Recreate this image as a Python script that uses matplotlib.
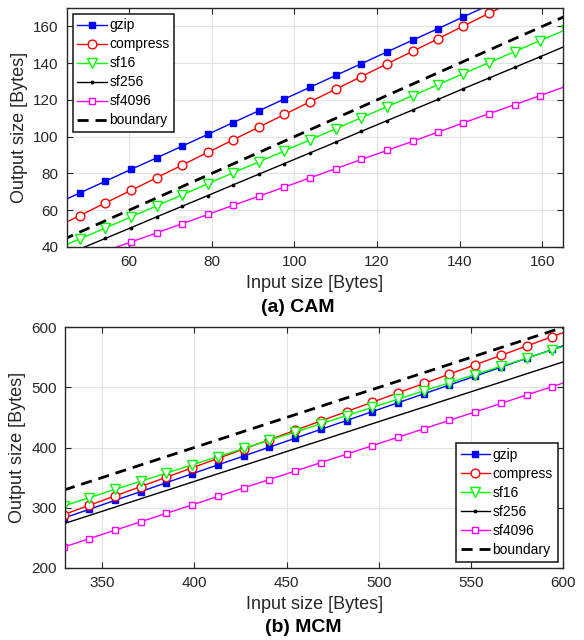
import matplotlib
matplotlib.use("Agg")
import matplotlib.pyplot as plt
from matplotlib.lines import Line2D

plt.rcParams['font.family'] = ['Liberation Sans', 'DejaVu Sans']

# ---- (a) CAM ----
cam_in = [41.9, 48.1, 54.3, 60.5, 66.7, 72.9, 79.1, 85.2, 91.4, 97.6, 103.8,
          110.0, 116.2, 122.4, 128.6, 134.8, 140.9, 147.1, 153.3, 159.5, 165.7]
cam_gzip = [63.0, 69.4, 75.8, 82.2, 88.5, 94.9, 101.3, 107.7, 114.1, 120.5, 126.9,
            133.3, 139.7, 146.1, 152.5, 158.8, 165.2, 171.6, 178.0, 184.4, 190.8]
cam_compress = [50.2, 57.1, 64.0, 70.8, 77.7, 84.6, 91.5, 98.3, 105.2, 112.1, 119.0,
                125.8, 132.7, 139.6, 146.4, 153.3, 160.2, 167.1, 173.9, 180.8, 187.7]
cam_sf16 = [38.4, 44.4, 50.4, 56.4, 62.4, 68.4, 74.4, 80.4, 86.3, 92.3, 98.3,
            104.3, 110.3, 116.3, 122.3, 128.3, 134.3, 140.3, 146.3, 152.3, 158.2]
cam_sf256 = [33.1, 38.9, 44.7, 50.5, 56.4, 62.2, 68.0, 73.8, 79.6, 85.4, 91.2,
             97.0, 102.9, 108.7, 114.5, 120.3, 126.1, 131.9, 137.7, 143.5, 149.4]
cam_sf4096 = [27.8, 32.8, 37.8, 42.7, 47.7, 52.7, 57.7, 62.7, 67.6, 72.6, 77.6,
              82.6, 87.6, 92.5, 97.5, 102.5, 107.5, 112.5, 117.4, 122.4, 127.4]
cam_boundary_x = [40, 170]
cam_boundary_y = [40, 170]

# ---- (b) MCM ----
mcm_in = [329.05, 343.0, 356.95, 370.9, 384.85, 398.8, 412.75, 426.7, 440.65, 454.6,
          468.55, 482.5, 496.45, 510.4, 524.35, 538.3, 552.25, 566.2, 580.15, 594.1, 608.05]
mcm_gzip = [282.4, 297.2, 312.0, 326.7, 341.5, 356.3, 371.1, 385.8, 400.6, 415.4,
            430.2, 444.9, 459.7, 474.5, 489.3, 504.0, 518.8, 533.6, 548.4, 563.1, 577.9]
mcm_compress = [288.2, 303.8, 319.4, 335.0, 350.6, 366.2, 381.8, 397.4, 413.0, 428.6,
                444.2, 459.8, 475.4, 491.0, 506.5, 522.1, 537.7, 553.3, 568.9, 584.5, 600.1]
mcm_sf16 = [302.8, 316.5, 330.2, 343.8, 357.5, 371.1, 384.8, 398.4, 412.1, 425.8,
            439.4, 453.1, 466.7, 480.4, 494.1, 507.7, 521.4, 535.0, 548.7, 562.3, 576.0]
mcm_sf256 = [273.1, 286.9, 300.8, 314.7, 328.5, 342.4, 356.3, 370.1, 384.0, 397.9,
             411.7, 425.6, 439.5, 453.4, 467.2, 481.1, 495.0, 508.8, 522.7, 536.6, 550.4]
mcm_sf4096 = [234.2, 248.3, 262.4, 276.4, 290.5, 304.5, 318.6, 332.7, 346.7, 360.8,
              374.9, 388.9, 403.0, 417.1, 431.1, 445.2, 459.2, 473.3, 487.4, 501.4, 515.5]
mcm_boundary_x = [320, 610]
mcm_boundary_y = [320, 610]

labels = ["gzip", "compress", "sf16", "sf256", "sf4096", "boundary"]

AX_COL = "#262626"
GRID_COL = "#e3e3e3"

styles = [
    dict(color=(0, 0, 1), marker="s", markersize=4.5, markerfacecolor=(0, 0, 1)),
    dict(color=(1, 0, 0), marker="o", markersize=6.3, markerfacecolor="white"),
    dict(color=(0, 1, 0), marker="v", markersize=6.8, markerfacecolor="white"),
    dict(color="black", marker=".", markersize=3.5),
    dict(color=(1, 0, 1), marker="s", markersize=4.8, markerfacecolor="white"),
]

fig = plt.figure(figsize=(5.84, 6.4), dpi=100)
ax1 = fig.add_axes([67 / 584, 1 - 247 / 640, 496 / 584, 239 / 640])
ax2 = fig.add_axes([65.3 / 584, 1 - 567.7 / 640, 498 / 584, 240.4 / 640])


def style_axes(ax):
    ax.grid(True, color=GRID_COL, linewidth=0.8, zorder=0)
    ax.set_axisbelow(True)
    for s in ax.spines.values():
        s.set_color(AX_COL)
        s.set_linewidth(1.0)
    ax.tick_params(direction="in", top=True, right=True, length=4, width=0.8,
                   colors=AX_COL, labelsize=11, pad=6)
    for t in ax.get_xticklabels() + ax.get_yticklabels():
        t.set_color(AX_COL)


legend_kw = dict(fontsize=10, handlelength=2.1, handletextpad=0.2,
                 labelspacing=0.36, borderpad=0.35, borderaxespad=0.4,
                 fancybox=False, framealpha=1, edgecolor=AX_COL)

# top panel
series_cam = [cam_gzip, cam_compress, cam_sf16, cam_sf256, cam_sf4096]
for ys, st, lab in zip(series_cam, styles, labels):
    ax1.plot(cam_in, ys, linewidth=1.0, label=lab, **st)
ax1.plot(cam_boundary_x, cam_boundary_y, color="black", linestyle=(0, (4, 2.5)),
         linewidth=2.0, label="boundary")
ax1.set_xlim(45, 165)
ax1.set_ylim(40, 170)
ax1.set_xticks([60, 80, 100, 120, 140, 160])
ax1.set_yticks([40, 60, 80, 100, 120, 140, 160])
style_axes(ax1)
ax1.set_xlabel("Input size [Bytes]", fontsize=13, color=AX_COL, labelpad=4)
ax1.set_ylabel("Output size [Bytes]", fontsize=13, color=AX_COL, labelpad=4)
leg1 = ax1.legend(loc="upper left", **legend_kw)
leg1.get_frame().set_linewidth(1.2)

# bottom panel
series_mcm = [mcm_gzip, mcm_compress, mcm_sf16, mcm_sf256, mcm_sf4096]
handles = []
for ys, st, lab in zip(series_mcm, styles, labels):
    if lab == "sf256":
        ax2.plot(mcm_in, ys, color="black", linewidth=1.0)
    else:
        ax2.plot(mcm_in, ys, linewidth=1.0, **st)
    handles.append(Line2D([], [], linewidth=1.0, **st))
ax2.plot(mcm_boundary_x, mcm_boundary_y, color="black", linestyle=(0, (4, 2.5)),
         linewidth=2.0)
handles.append(Line2D([], [], color="black", linestyle=(0, (4, 2.5)), linewidth=2.0))
ax2.set_xlim(330, 600)
ax2.set_ylim(200, 600)
ax2.set_xticks([350, 400, 450, 500, 550, 600])
ax2.set_yticks([200, 300, 400, 500, 600])
style_axes(ax2)
ax2.set_xlabel("Input size [Bytes]", fontsize=13, color=AX_COL, labelpad=4)
ax2.set_ylabel("Output size [Bytes]", fontsize=13, color=AX_COL, labelpad=4)
leg2 = ax2.legend(handles, labels, loc="lower right", **legend_kw)
leg2.get_frame().set_linewidth(1.2)

fig.text(298 / 584, 1 - 307 / 640, "(a) CAM", ha="center", va="center",
         fontsize=14, fontweight="bold", color="black")
fig.text(303 / 584, 1 - 628 / 640, "(b) MCM", ha="center", va="center",
         fontsize=14, fontweight="bold", color="black")

fig.savefig("out.png", dpi=100)
